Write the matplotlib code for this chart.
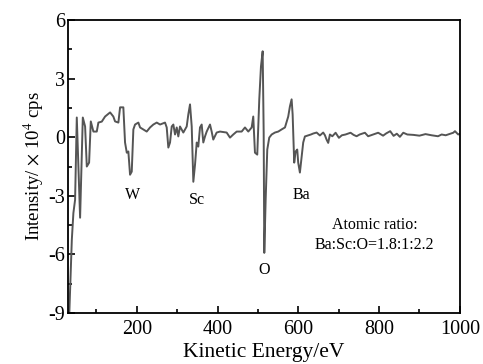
import matplotlib
matplotlib.use("Agg")
import matplotlib.pyplot as plt
from matplotlib.ticker import MultipleLocator

plt.rcParams['font.family'] = ['Liberation Serif', 'DejaVu Serif']
plt.rcParams['mathtext.fontset'] = 'stix'
plt.rcParams['axes.unicode_minus'] = False

energy = [32, 33, 39.2, 43.1, 47.3, 49.8, 51.5, 59.7, 66.4, 72.1, 76.3, 82.0, 86.2, 92.6, 101,
          105, 113.4, 121.6, 134, 142, 146.3, 154.5, 158.7, 166.8, 171, 175.3, 179.2, 183.4,
          187.6, 191.6, 195.8, 204, 208.2, 216.3, 224.7, 232.9, 241.1, 249.5, 257.7, 270.0,
          274.2, 278.2, 282.4, 286.6, 290.6, 294.8, 299, 302.9, 307.1, 315.3, 323.7, 327.7,
          331.9, 336.1, 340.1, 344.3, 348.5, 352.4, 356.6, 360.8, 364.8, 369, 373.2, 381.4,
          385.5, 389.5, 397.9, 406.1, 422.6, 430.9, 439.0, 447.5, 459.8, 468, 476.2, 484.6,
          488.5, 492.7, 498.4, 503.4, 507.6, 511.8, 514.3, 515.8, 519.2, 523.2, 528.1, 534.1,
          542.2, 550.4, 558.8, 567, 575.1, 579.3, 583.5, 586, 589.9, 593.4, 597.4, 599.8, 604,
          608.3, 612.2, 616.4, 623.8, 631.3, 637, 645.4, 653.5, 661.7, 666, 670, 674.1, 678.3,
          684.3, 692.4, 700.6, 708, 717, 729.4, 737, 744.4, 752, 765, 773, 785, 797.8, 810,
          818, 827.6, 836, 844, 851.6, 860, 870, 885, 900, 915, 930, 946, 955, 965, 983.8,
          988, 996, 1000]
intensity = [-9.5, -9.0, -5.25, -3.88, -3.2, -0.63, 1.01, -4.12, 1.01, 0.55, -1.5, -1.3, 0.81,
             0.29, 0.29, 0.75, 0.8, 1.06, 1.27, 1.06, 0.81, 0.75, 1.53, 1.53, -0.27, -0.79,
             -0.73, -1.92, -1.76, 0.4, 0.65, 0.75, 0.5, 0.4, 0.29, 0.5, 0.65, 0.75, 0.65, 0.75,
             0.5, -0.53, -0.27, 0.55, 0.65, 0.14, 0.5, 0.04, 0.55, 0.24, 0.55, 1.17, 1.68, 0.55,
             -2.28, -1.4, -0.27, -0.48, 0.5, 0.65, -0.27, 0.04, 0.29, 0.65, 0.29, -0.12, 0.24,
             0.29, 0.24, -0.02, 0.14, 0.29, 0.29, 0.5, 0.29, 0.5, 1.06, -0.79, -0.89, 1.94,
             3.63, 4.4, 0.24, -5.92, -3.2, -0.63, -0.02, 0.14, 0.24, 0.29, 0.4, 0.5, 1.06, 1.58,
             1.94, 1.17, -1.3, -0.73, -0.63, -1.3, -1.81, -1.0, -0.27, 0.04, 0.09, 0.14, 0.19,
             0.24, 0.09, 0.24, 0.1, -0.12, -0.29, 0.14, 0.05, 0.23, -0.03, 0.1, 0.14, 0.23,
             0.12, 0.05, 0.14, 0.23, 0.05, 0.14, 0.23, 0.08, 0.2, 0.31, 0.07, 0.18, 0.02, 0.23,
             0.14, 0.12, 0.08, 0.16, 0.1, 0.05, 0.14, 0.1, 0.23, 0.31, 0.14, 0.18]

peak_labels = ["W", "Sc", "O", "Ba"]
peak_x = [190, 348, 516, 608]
peak_y = [-2.95, -3.2, -6.8, -2.95]

fig = plt.figure(figsize=(4.83, 3.64), dpi=100)
ax = fig.add_axes([0.141, 0.140, 0.811, 0.805])
ax.plot(energy, intensity, color='#555555', lw=1.4)
ax.set_xlim(30, 1000)
ax.set_ylim(-9, 6)
ax.xaxis.set_major_locator(MultipleLocator(200))
ax.xaxis.set_minor_locator(MultipleLocator(100))
ax.yaxis.set_major_locator(MultipleLocator(3))
ax.yaxis.set_minor_locator(MultipleLocator(1.5))
ax.tick_params(which='both', direction='in', top=False, right=False, width=1.2)
ax.tick_params(which='major', length=5, labelsize=14.5)
ax.tick_params(axis='x', which='major', pad=5)
ax.tick_params(axis='y', which='major', pad=2)
ax.tick_params(which='minor', length=3)
for s in ax.spines.values():
    s.set_linewidth(1.3)
ax.set_xlabel('Kinetic Energy/eV', fontsize=15.5, labelpad=3)
ax.set_ylabel(r'Intensity/ $\times$ 10$^4$ cps', fontsize=13.5, labelpad=2)
for t, x, y in zip(peak_labels, peak_x, peak_y):
    ax.text(x, y, t, ha='center', va='center', fontsize=11.5)
ax.text(789, -4.5, 'Atomic ratio:', ha='center', va='center', fontsize=11.5)
ax.text(789, -5.5, 'Ba:Sc:O=1.8:1:2.2', ha='center', va='center', fontsize=11.5)
fig.savefig('out.png', dpi=100)
